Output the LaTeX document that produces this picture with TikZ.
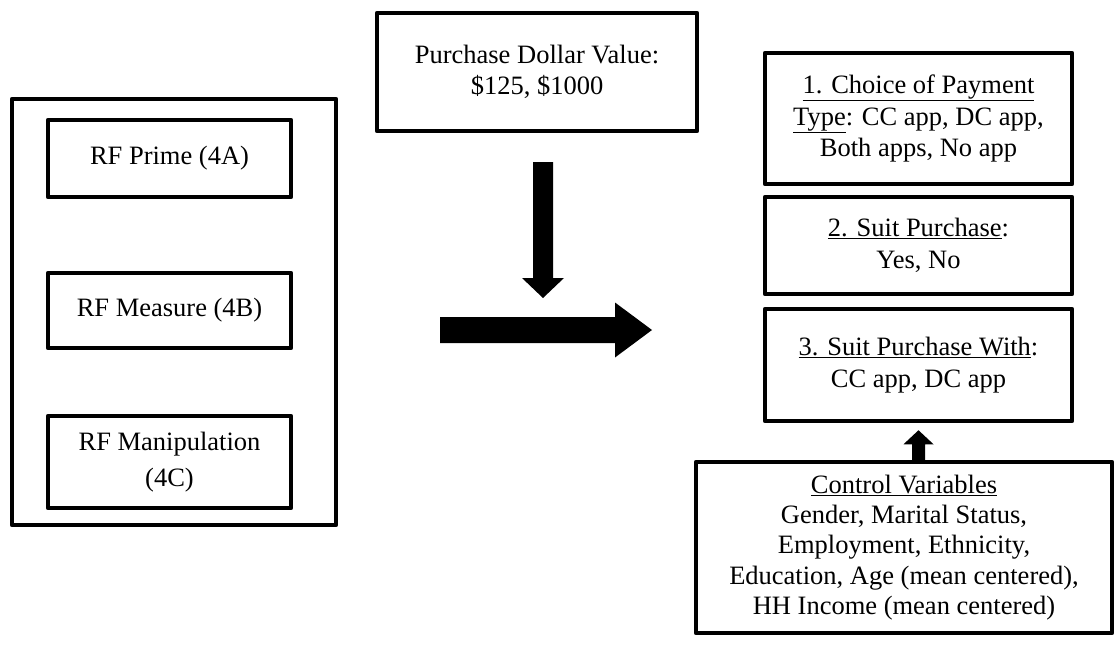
\documentclass[tikz,border=0pt]{standalone}
\usepackage{fontspec}
\setmainfont{Liberation Serif}
\usetikzlibrary{calc}

% filled block arrow: #1 tail, #2 tip, #3 half shaft width, #4 half head width, #5 head length
\newcommand\blockarr[5]{%
  \coordinate (ba-h) at ($(#2)!#5!(#1)$);
  \fill ($(#1)!#3!90:(#2)$) -- ($(ba-h)!#3!-90:(#1)$) -- ($(ba-h)!#4!-90:(#1)$) -- (#2)
        -- ($(ba-h)!#4!90:(#1)$) -- ($(ba-h)!#3!90:(#1)$) -- ($(#1)!#3!-90:(#2)$) -- cycle;
}

\begin{document}
\begin{tikzpicture}[x=1pt,y=-1pt,
  box/.style={draw, line width=4.5pt, line join=round, inner sep=0pt, align=center,
              font=\fontsize{26.5}{31.5}\selectfont},
  frame/.style={draw, line width=4.5pt, line join=round}]
\useasboundingbox (0,0) rectangle (1120,645);

% left frame holding the three RF conditions
\draw[frame] (12,99) rectangle (336,525);
\node[box, minimum width=243pt, minimum height=77pt] (rf1) at (169.5,158.5) {RF Prime (4A)};
\node[box, minimum width=243pt, minimum height=75pt] (rf2) at (169.5,310.5) {RF Measure (4B)};
\node[box, minimum width=243pt, minimum height=92pt] (rf3) at (169.5,462) {RF Manipulation\\[5pt](4C)};

% purchase value moderator
\node[box, minimum width=320pt, minimum height=118pt] (pdv) at (537,72) {Purchase Dollar Value:\\\$125, \$1000};

% outcome boxes
\node[box, minimum width=307pt, minimum height=131pt] (o1) at (918.5,118.5)
  {\underline{1. Choice of Payment}\\\underline{Type}: CC app, DC app,\\Both apps, No app};
\node[box, minimum width=307pt, minimum height=97pt] (o2) at (918.5,245.5)
  {\underline{2. Suit Purchase}:\\Yes, No};
\node[box, minimum width=307pt, minimum height=112pt] (o3) at (918.5,365)
  {\underline{3. Suit Purchase With}:\\CC app, DC app};

% control variables
\node[box, minimum width=416pt, minimum height=171pt, font=\fontsize{26.5}{30.2}\selectfont] (ctrl) at (904,547.5)
  {\underline{Control Variables}\\Gender, Marital Status,\\Employment, Ethnicity,\\Education, Age (mean centered),\\HH Income (mean centered)};

% block arrows
\coordinate (dTail) at (543,162);
\coordinate (dTip) at (543,298);
\blockarr{dTail}{dTip}{10pt}{21pt}{20pt}

\coordinate (hTail) at (440,330);
\coordinate (hTip) at (652,330);
\blockarr{hTail}{hTip}{13pt}{27.5pt}{37pt}

\coordinate (uTail) at (ctrl.north -| o3.south);
\coordinate (uTip) at ($(o3.south)+(0,7)$);
\blockarr{uTail}{uTip}{6.5pt}{15pt}{14pt}
\end{tikzpicture}
\end{document}
